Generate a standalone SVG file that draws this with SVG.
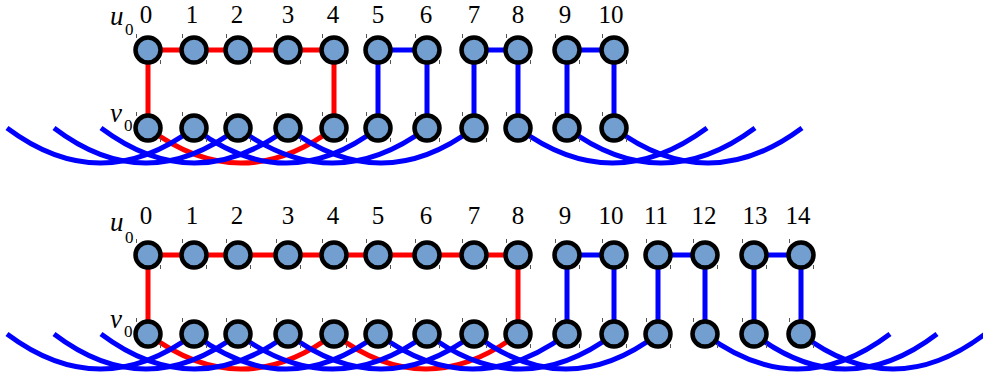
<svg xmlns="http://www.w3.org/2000/svg" width="983" height="381" viewBox="0 0 983 381">
<style>
.r{stroke:#FF0000;stroke-width:5;fill:none}
.b{stroke:#0000FF;stroke-width:5;fill:none}
.n{fill:#729FCF;stroke:#000;stroke-width:4.5}
.t{stroke:#555;stroke-width:1}
</style>
<defs>
<g id="node"><circle class="n" cx="0" cy="0" r="12.5"/><line class="t" x1="-11.5" y1="-16" x2="-11.5" y2="-12"/><line class="t" x1="12.5" y1="10" x2="12.5" y2="14"/></g>
</defs>
<rect width="983" height="381" fill="#fff"/>
<g id="connectors">
<path class="r" d="M148,128 Q241,198 334,128"/>
<path class="b" d="M7,128 Q100.5,198 194,128"/>
<path class="b" d="M54,128 Q146,198 238,128"/>
<path class="b" d="M101,128 Q194.5,198 288,128"/>
<path class="b" d="M194,128 Q286,198 378,128"/>
<path class="b" d="M238,128 Q332.5,198 427,128"/>
<path class="b" d="M288,128 Q381,198 474,128"/>
<path class="b" d="M518,128 Q612.5,198 707,128"/>
<path class="b" d="M567,128 Q661,198 755,128"/>
<path class="b" d="M614,128 Q708,198 802,128"/>
<path class="r" d="M148,128 V50 H334 V128"/>
<path class="b" d="M378,128 V50 H427 V128"/>
<path class="b" d="M474,128 V50 H518 V128"/>
<path class="b" d="M567,128 V50 H614 V128"/>
<path class="r" d="M148,334 Q241,404 334,334"/>
<path class="r" d="M334,334 Q426,404 518,334"/>
<path class="b" d="M7,334 Q100.5,404 194,334"/>
<path class="b" d="M54,334 Q146,404 238,334"/>
<path class="b" d="M101,334 Q194.5,404 288,334"/>
<path class="b" d="M194,334 Q286,404 378,334"/>
<path class="b" d="M238,334 Q332.5,404 427,334"/>
<path class="b" d="M288,334 Q381,404 474,334"/>
<path class="b" d="M378,334 Q472.5,404 567,334"/>
<path class="b" d="M427,334 Q520.5,404 614,334"/>
<path class="b" d="M474,334 Q566,404 658,334"/>
<path class="b" d="M705,334 Q797.5,404 890,334"/>
<path class="b" d="M754,334 Q845.5,404 937,334"/>
<path class="b" d="M801,334 Q893,404 985,334"/>
<path class="r" d="M148,334 V255 H518 V334"/>
<path class="b" d="M567,334 V255 H614 V334"/>
<path class="b" d="M658,334 V255 H705 V334"/>
<path class="b" d="M754,334 V255 H801 V334"/>
</g>
<g id="labels" font-family="'Liberation Serif','Times New Roman',serif" fill="#000">
<g font-style="italic" font-size="27">
<text x="110" y="25">u</text>
<text x="110" y="122">v</text>
<text x="110" y="231">u</text>
<text x="110" y="328">v</text>
</g>
<g font-size="17">
<text x="125" y="35">0</text>
<text x="124" y="131">0</text>
<text x="125" y="243">0</text>
<text x="124" y="337">0</text>
</g>
<g font-size="25" text-anchor="middle">
<text x="146" y="22.5">0</text>
<text x="192" y="22.5">1</text>
<text x="237" y="22.5">2</text>
<text x="288" y="22.5">3</text>
<text x="333" y="22.5">4</text>
<text x="378" y="22.5">5</text>
<text x="426" y="22.5">6</text>
<text x="474" y="22.5">7</text>
<text x="518" y="22.5">8</text>
<text x="565" y="22.5">9</text>
<text x="611" y="22.5">10</text>
<text x="146" y="224">0</text>
<text x="192" y="224">1</text>
<text x="237" y="224">2</text>
<text x="288" y="224">3</text>
<text x="333" y="224">4</text>
<text x="378" y="224">5</text>
<text x="426" y="224">6</text>
<text x="474" y="224">7</text>
<text x="518" y="224">8</text>
<text x="565" y="224">9</text>
<text x="611" y="224">10</text>
<text x="656" y="224">11</text>
<text x="704" y="224">12</text>
<text x="755" y="224">13</text>
<text x="798" y="224">14</text>
</g>
</g>
<g id="top-u0"><use href="#node" x="148" y="50"/></g>
<g id="top-u1"><use href="#node" x="194" y="50"/></g>
<g id="top-u2"><use href="#node" x="238" y="50"/></g>
<g id="top-u3"><use href="#node" x="288" y="50"/></g>
<g id="top-u4"><use href="#node" x="334" y="50"/></g>
<g id="top-u5"><use href="#node" x="378" y="50"/></g>
<g id="top-u6"><use href="#node" x="427" y="50"/></g>
<g id="top-u7"><use href="#node" x="474" y="50"/></g>
<g id="top-u8"><use href="#node" x="518" y="50"/></g>
<g id="top-u9"><use href="#node" x="567" y="50"/></g>
<g id="top-u10"><use href="#node" x="614" y="50"/></g>
<g id="top-v0"><use href="#node" x="148" y="128"/></g>
<g id="top-v1"><use href="#node" x="194" y="128"/></g>
<g id="top-v2"><use href="#node" x="238" y="128"/></g>
<g id="top-v3"><use href="#node" x="288" y="128"/></g>
<g id="top-v4"><use href="#node" x="334" y="128"/></g>
<g id="top-v5"><use href="#node" x="378" y="128"/></g>
<g id="top-v6"><use href="#node" x="427" y="128"/></g>
<g id="top-v7"><use href="#node" x="474" y="128"/></g>
<g id="top-v8"><use href="#node" x="518" y="128"/></g>
<g id="top-v9"><use href="#node" x="567" y="128"/></g>
<g id="top-v10"><use href="#node" x="614" y="128"/></g>
<g id="bot-u0"><use href="#node" x="148" y="255"/></g>
<g id="bot-u1"><use href="#node" x="194" y="255"/></g>
<g id="bot-u2"><use href="#node" x="238" y="255"/></g>
<g id="bot-u3"><use href="#node" x="288" y="255"/></g>
<g id="bot-u4"><use href="#node" x="334" y="255"/></g>
<g id="bot-u5"><use href="#node" x="378" y="255"/></g>
<g id="bot-u6"><use href="#node" x="427" y="255"/></g>
<g id="bot-u7"><use href="#node" x="474" y="255"/></g>
<g id="bot-u8"><use href="#node" x="518" y="255"/></g>
<g id="bot-u9"><use href="#node" x="567" y="255"/></g>
<g id="bot-u10"><use href="#node" x="614" y="255"/></g>
<g id="bot-u11"><use href="#node" x="658" y="255"/></g>
<g id="bot-u12"><use href="#node" x="705" y="255"/></g>
<g id="bot-u13"><use href="#node" x="754" y="255"/></g>
<g id="bot-u14"><use href="#node" x="801" y="255"/></g>
<g id="bot-v0"><use href="#node" x="148" y="334"/></g>
<g id="bot-v1"><use href="#node" x="194" y="334"/></g>
<g id="bot-v2"><use href="#node" x="238" y="334"/></g>
<g id="bot-v3"><use href="#node" x="288" y="334"/></g>
<g id="bot-v4"><use href="#node" x="334" y="334"/></g>
<g id="bot-v5"><use href="#node" x="378" y="334"/></g>
<g id="bot-v6"><use href="#node" x="427" y="334"/></g>
<g id="bot-v7"><use href="#node" x="474" y="334"/></g>
<g id="bot-v8"><use href="#node" x="518" y="334"/></g>
<g id="bot-v9"><use href="#node" x="567" y="334"/></g>
<g id="bot-v10"><use href="#node" x="614" y="334"/></g>
<g id="bot-v11"><use href="#node" x="658" y="334"/></g>
<g id="bot-v12"><use href="#node" x="705" y="334"/></g>
<g id="bot-v13"><use href="#node" x="754" y="334"/></g>
<g id="bot-v14"><use href="#node" x="801" y="334"/></g>
</svg>
